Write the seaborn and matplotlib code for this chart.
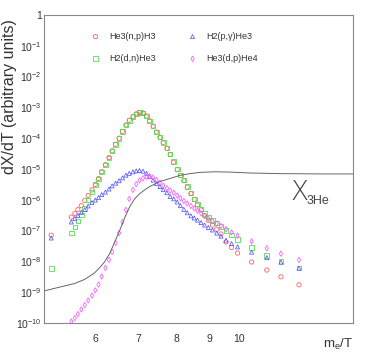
import numpy as np
import pandas as pd
import matplotlib
matplotlib.use("Agg")
import matplotlib.pyplot as plt
from matplotlib.ticker import FixedLocator, FuncFormatter, LogLocator, NullFormatter
import seaborn as sns

# ---------------- data ----------------
# m_e/T sample points shared by all reactions
x_points = [5.13, 5.51, 5.58, 5.64, 5.71, 5.78, 5.85, 5.93, 6.00, 6.07, 6.14,
            6.22, 6.30, 6.37, 6.45, 6.53, 6.61, 6.69, 6.77, 6.86, 6.94, 7.02,
            7.11, 7.20, 7.28, 7.37, 7.46, 7.55, 7.64, 7.74, 7.83, 7.93, 8.03,
            8.12, 8.22, 8.32, 8.43, 8.53, 8.63, 8.74, 8.85, 8.97, 9.10, 9.24,
            9.38, 9.55, 9.74, 9.95, 10.46, 11.04, 11.61, 12.38]

# log10 of dX/dT for each reaction
log_he3_np_h3 = [-7.15, -6.56, -6.44, -6.32, -6.19, -6.02, -5.86, -5.68, -5.50, -5.31, -5.09,
                 -4.86, -4.63, -4.41, -4.20, -4.00, -3.78, -3.57, -3.42, -3.30, -3.21, -3.17,
                 -3.18, -3.28, -3.44, -3.61, -3.80, -3.97, -4.15, -4.33, -4.53, -4.78, -5.02,
                 -5.21, -5.38, -5.59, -5.80, -5.99, -6.17, -6.33, -6.51, -6.67, -6.82, -6.96,
                 -7.11, -7.37, -7.55, -7.73, -8.02, -8.28, -8.50, -8.76]

log_h2_dn_he3 = [-8.24, -7.08, -6.88, -6.69, -6.49, -6.28, -6.01, -5.75, -5.52, -5.32, -5.10,
                 -4.87, -4.64, -4.42, -4.20, -4.01, -3.78, -3.57, -3.43, -3.30, -3.21, -3.17,
                 -3.18, -3.28, -3.44, -3.60, -3.80, -3.96, -4.14, -4.32, -4.51, -4.76, -5.00,
                 -5.19, -5.36, -5.57, -5.78, -5.97, -6.14, -6.30, -6.44, -6.56, -6.67, -6.75,
                 -6.87, -7.00, -7.14, -7.28, -7.54, -7.80, -8.01, -8.22]

log_h2_pg_he3 = [-7.24, -6.72, -6.61, -6.51, -6.41, -6.32, -6.20, -6.09, -6.01, -5.93, -5.83,
                 -5.75, -5.65, -5.55, -5.46, -5.38, -5.29, -5.20, -5.14, -5.09, -5.06, -5.05,
                 -5.07, -5.14, -5.24, -5.36, -5.47, -5.57, -5.67, -5.77, -5.89, -5.97, -6.07,
                 -6.19, -6.31, -6.42, -6.52, -6.59, -6.66, -6.74, -6.82, -6.90, -6.98, -7.08,
                 -7.18, -7.31, -7.42, -7.53, -7.70, -7.88, -8.02, -8.22]

log_he3_dp_he4 = [np.nan, -9.95, -9.84, -9.71, -9.56, -9.42, -9.27, -9.11, -8.94, -8.75, -8.49,
                  -8.21, -7.95, -7.69, -7.40, -7.08, -6.72, -6.33, -5.97, -5.68, -5.49, -5.37,
                  -5.30, -5.25, -5.24, -5.28, -5.36, -5.44, -5.54, -5.62, -5.70, -5.77, -5.86,
                  -5.95, -6.04, -6.12, -6.20, -6.28, -6.36, -6.44, -6.53, -6.61, -6.69, -6.77,
                  -6.85, -6.95, -7.06, -7.16, -7.35, -7.57, -7.75, -7.95]

# X_3He abundance curve
line_x = [5.0, 5.18, 5.37, 5.57, 5.77, 5.87, 5.98, 6.09, 6.20, 6.31, 6.42, 6.54, 6.66,
          6.78, 6.90, 7.02, 7.15, 7.28, 7.54, 7.82, 8.10, 8.40, 8.70, 9.18, 9.68, 10.40,
          11.58, 13.36, 15.0]
line_log = [-8.96, -8.88, -8.80, -8.72, -8.59, -8.49, -8.38, -8.21, -8.02, -7.76, -7.40,
            -7.01, -6.59, -6.23, -5.97, -5.81, -5.68, -5.57, -5.41, -5.31, -5.21, -5.15,
            -5.11, -5.09, -5.10, -5.13, -5.15, -5.16, -5.16]

reactions = ["He3(n,p)H3", "H2(d,n)He3", "H2(p,\u03b3)He3", "He3(d,p)He4"]
series_logs = [log_he3_np_h3, log_h2_dn_he3, log_h2_pg_he3, log_he3_dp_he4]
colors = ["#ff5555", "#44dd44", "#5555ff", "#ff55ff"]
markers = ["o", "s", "^", "d"]
sizes = [9.5, 11, 8.5, 7.5]

# ---------------- style ----------------
sns.set_style("white")
plt.rcParams["font.family"] = ["Liberation Sans", "DejaVu Sans"]
plt.rcParams["mathtext.default"] = "regular"

W, H = 372, 357
fig = plt.figure(figsize=(W / 100, H / 100), dpi=100)
ax = fig.add_axes([44 / W, (H - 323) / H, 309 / W, 308 / H])

frames = []
for name, logs in zip(reactions, series_logs):
    frames.append(pd.DataFrame({"x": x_points, "y": np.power(10.0, logs), "reaction": name}))
df = pd.concat(frames, ignore_index=True)

handles = []
for name, c, m, s in zip(reactions, colors, markers, sizes):
    sub = df[df["reaction"] == name]
    sns.scatterplot(data=sub, x="x", y="y", marker=m, s=s, facecolors="none",
                    edgecolors=c, color=c, linewidths=0.55, ax=ax, label=name, legend=False)
    handles.append(ax.collections[-1])

line_df = pd.DataFrame({"x": line_x, "y": np.power(10.0, line_log)})
sns.lineplot(data=line_df, x="x", y="y", color="#666666", lw=0.7, sort=False,
             estimator=None, ax=ax)

ax.set_xscale("log")
ax.set_yscale("log")
ax.set_xlim(5, 15)
ax.set_ylim(1e-10, 1)

# x ticks like ROOT: 10 major, 6..9 labelled minor
ax.xaxis.set_major_locator(FixedLocator([10]))
ax.xaxis.set_minor_locator(FixedLocator([6, 7, 8, 9]))
fmt_x = FuncFormatter(lambda v, p: f"{v:g}")
ax.xaxis.set_major_formatter(fmt_x)
ax.xaxis.set_minor_formatter(fmt_x)

ax.yaxis.set_major_locator(LogLocator(base=10, numticks=20))
ax.yaxis.set_minor_locator(LogLocator(base=10, subs=np.arange(2, 10), numticks=20))
ax.yaxis.set_minor_formatter(NullFormatter())
ax.yaxis.set_major_formatter(FuncFormatter(
    lambda v, p: "1" if abs(np.log10(v)) < 1e-6 else r"$10^{%d}$" % round(np.log10(v))))

ax.tick_params(axis="both", which="both", direction="in", colors="#777777",
               labelcolor="#333333", labelsize=7.5, top=False, right=False)
ax.tick_params(axis="y", which="major", length=9, width=0.7, pad=1.5)
ax.tick_params(axis="y", which="minor", length=4.5, width=0.6)
ax.tick_params(axis="x", which="major", length=6, width=0.7, pad=8)
ax.tick_params(axis="x", which="minor", length=3, width=0.6, pad=8, labelsize=7.5)

for sp in ax.spines.values():
    sp.set_color("#888888")
    sp.set_linewidth(0.8)

ax.set_xlabel("m$_e$/T", loc="right", fontsize=9.5, color="#333333")
ax.xaxis.set_label_coords(1.0, -0.045)
ax.set_ylabel("dX/dT (arbitrary units)", loc="top", fontsize=11.5, color="#333333")
ax.yaxis.set_label_coords(-0.088, 0.985)

leg_kw = dict(loc="upper left", bbox_transform=fig.transFigure, frameon=False,
              fontsize=6.5, handlelength=1.0, handletextpad=1.0, labelspacing=1.45,
              borderpad=0, borderaxespad=0, labelcolor="#333333")
leg1 = ax.legend(handles=handles[:2], labels=reactions[:2],
                 bbox_to_anchor=(91 / W, 1 - 32 / H), **leg_kw)
ax.add_artist(leg1)
ax.legend(handles=handles[2:], labels=reactions[2:],
          bbox_to_anchor=(188 / W, 1 - 32 / H), **leg_kw)

ax.text(12.0, 1.75e-6, "X", fontsize=19, color="#444444", ha="left", va="center",
        family=["DejaVu Sans"], fontweight="light")
ax.text(12.7, 9.0e-7, "3He", fontsize=9, color="#444444", ha="left", va="center")

fig.savefig("out.png", dpi=100, facecolor="white")
